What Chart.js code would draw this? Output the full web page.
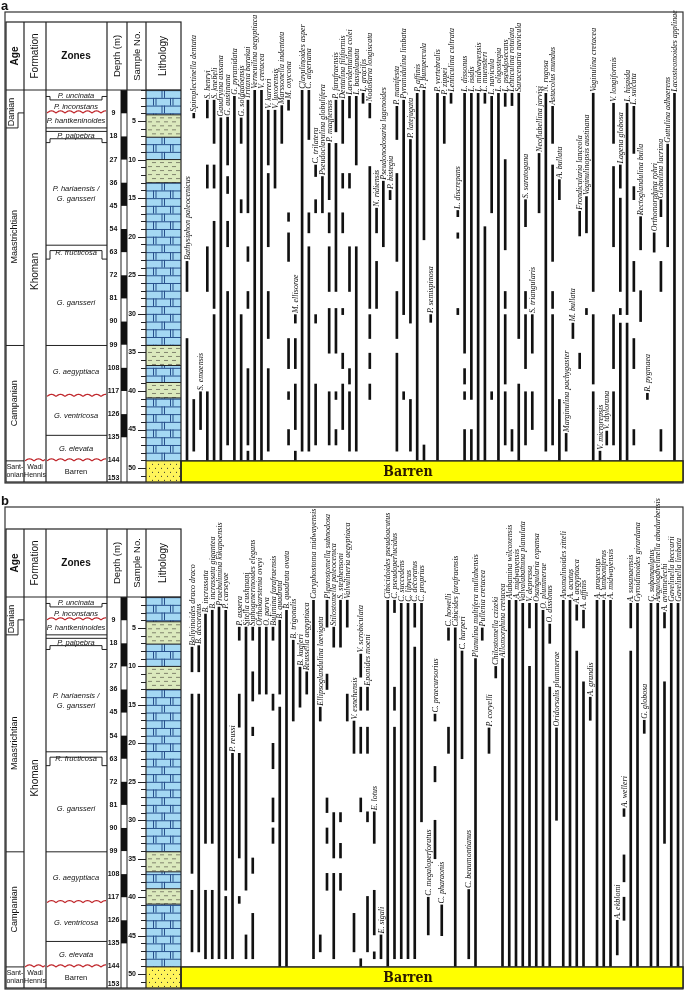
<!DOCTYPE html>
<html>
<head>
<meta charset="utf-8">
<script src="https://cdn.jsdelivr.net/npm/chart.js@4.4.1/dist/chart.umd.min.js"></script>
<style>
  body { margin: 0; background: #fff; width: 685px; height: 990px; position: relative; overflow: hidden; }
  .panel { position: absolute; left: 0; width: 685px; }
  #wrapA { top: 0; height: 486px; }
  #wrapB { top: 486px; height: 504px; }
</style>
</head>
<body>
<div class="panel" id="wrapA"><canvas id="chartA"></canvas></div>
<div class="panel" id="wrapB"><canvas id="chartB"></canvas></div>
<script>
// ---- stratigraphy (sample units, sample 1 at top) ----
const ageNames = ['Danian', 'Maastrichtian', 'Campanian', 'Sant-|onian']
const ageTops = [1, 5.9, 34.1, 49.06]
const zoneNames = ['P. uncinata', 'P. inconstans', 'P. hantkeninoides', 'P. palpebra',
  'P. hariaensis /|G. gansseri', 'R. fructicosa', 'G. gansseri', 'G. aegyptiaca',
  'G. ventricosa', 'G. elevata', 'Barren']
const zoneTops = [1, 2.27, 3.95, 5.9, 7.8, 21.1, 22.9, 34.1, 40.7, 45.75, 49.06]
const unconformities = [3.95, 40.7]
const depthTicks = [9, 18, 27, 36, 45, 54, 63, 72, 81, 90, 99, 108, 117, 126, 135, 144, 153]
const sampleLabels = [5, 10, 15, 20, 25, 30, 35, 40, 45, 50]
const lithTypes = ['lime', 'marl', 'lime', 'marl', 'lime', 'marl', 'lime', 'marl', 'lime', 'sand']
const lithTops = [1, 4.2, 7.1, 10.0, 13.0, 34.1, 36.7, 38.9, 40.9, 49.06]
const sampleMax = 51.8

// ---- panel a : agglutinated and calcareous benthics ----
const speciesA = ['Bathysiphon paleocenicus', 'Spiroplectinella dentata', 'S. emaensis', 'S. henryi', 'S. knebeli',
  'Gaudryina aissana', 'G. austinana', 'G. pyramidata', 'G. soldadoensis', 'Tritaxia barakai',
  'Verneuilina aegyptiaca', 'V. cretacea', 'V. karreri', 'V. luxorensis', 'Marssonella indentata',
  'M. oxycona', 'M. ellisorae', 'Clavulinoides asper', 'C. algeriana', 'C. trilatera',
  'Pseudoclavulina globulifera', 'P. maqfiensis', 'P. farafraensis', 'Dentalina filiformis', 'Laevidentalina colei',
  'L. basiplanata', 'L. gracilis', 'Nodosaria longiscata', 'N. ridiensis', 'Pseudonodosaria lagenoides',
  'P. bistegia', 'P. manifesta', 'Pyramidulina limbata', 'P. latejugata', 'P. affinis',
  'P. pumpercula', 'P. semispinosa', 'P. vertebralis', 'P. zippei', 'Lenticulina cultrata',
  'L. discrepans', 'L. dissonus', 'L. isidis', 'L. midwayensis', 'L. muensteri',
  'L. navicula', 'L. oligostegia', 'L. pseudosecans', 'Lenticulina rotulata', 'Saracenaria navicula',
  'S. saratogana', 'S. triangularis', 'Neoflabellina jarvisi', 'N. rugosa', 'Astacolus mundus',
  'A. bullata', 'Marginulina pachygaster', 'M. bullata', 'Frondicularia lanceola', 'Vaginulinopsis austinana',
  'Vaginulina cretacea', 'V. microrepsis', 'V. taylorana', 'V. longiformis', 'Lagena globosa',
  'L. hispida', 'L. sulcata', 'Rectoglandulina bulla', 'R. pygmaea', 'Orthomorphina rohri',
  'Globulina lacrima', 'Guttulina adhaerens', 'Lacosteomoides applinae']
const rangesA = [
  [[23.2, 27.1], [33.2, 49]], [[4, 4.6], [41.1, 47.8]], [[40.1, 45]],
  [[2.3, 4.6], [10.7, 13.7], [21.3, 27.1], [40.1, 49]], [[2.3, 7.9], [10.7, 13.7], [18, 29.3], [30.1, 49]],
  [[4.6, 49]], [[4.5, 10.7], [12.2, 14.4], [18, 21.3], [27.1, 47]], [[1.8, 49]],
  [[4.6, 7.9], [15.2, 16.9], [30.1, 49]], [[2.3, 16.9], [21.3, 23.2], [27.1, 29.3], [37.1, 47], [47.8, 49]],
  [[1, 49]], [[1, 49]], [[3.6, 10.7], [11.8, 21.3], [27.1, 33.2], [37.1, 47.8]], [[3.6, 13.7]], [[3, 7.9]],
  [[2.3, 3.6], [16.9, 18], [19.5, 23.2], [33.2, 37.1], [40.1, 41.1], [45, 47]],
  [[30.1, 31.2], [33.2, 37.1], [39.1, 45], [47.8, 49]], [[1, 47.8]], [[1, 7.4], [16.9, 19.5], [21.3, 47.8]],
  [[10.7, 12.2], [15.2, 16.9], [30.1, 31.2], [39.1, 47]], [[12.2, 16.9]],
  [[7.9, 15.2], [16.9, 19.5], [21.3, 27.1], [29.3, 35.1], [40.1, 47]],
  [[2.3, 6.4], [7.9, 27.1], [29.3, 35.1], [40.1, 41.1], [45, 47]],
  [[2.3, 7.9], [11.8, 13.7], [16.9, 19.5], [29.3, 30.1], [35.1, 37.1], [39.1, 45]],
  [[1.8, 4.6], [11.8, 13.7], [21.3, 27.1], [37.1, 39.1], [40.1, 47.8]], [[1.8, 10.7], [21.3, 47.8]], [[1.4, 2.7]],
  [[2.7, 4.6], [10.9, 29.3], [30.1, 33.2], [35.1, 37.1], [39.1, 41.1]], [[16.3, 19.5], [23.2, 29.3]], [[12.8, 21.3]],
  [[14, 15.2]], [[3.1, 7.4], [11.8, 23.2], [27.1, 33.2], [35.1, 47.8]], [[2.3, 30.1], [40.1, 41.1]],
  [[7.4, 31.2], [41.1, 47.8]], [[1.4, 49]], [[1, 20.4], [47, 49]], [[30.1, 31.1]], [[1.4, 49]], [[1.8, 7.9]],
  [[1.4, 2.7]], [[16.6, 17.4], [19.5, 20.2], [29.3, 30.1]], [[1.4, 35.1], [37.1, 39.1], [40.1, 41.1], [45, 49]],
  [[1.4, 41.1], [45, 49]], [[1.4, 49]], [[1.4, 2.7], [18.7, 49]], [[1.8, 16.9], [40.1, 41.1]], [[1.4, 49]],
  [[1.4, 3.1], [10, 21.7], [27.1, 29.3], [30.1, 39.1], [40.1, 47]], [[1.4, 3], [45, 47.8]],
  [[1.4, 33.2], [39.1, 49]], [[15.2, 18.7], [27.1, 29.3], [30.1, 37.1], [40.1, 47]], [[30.1, 35.1], [40.1, 45]],
  [[9.2, 16.9]], [[1.4, 47.8]], [[3.1, 7.9], [10.7, 23.2], [27.1, 29.3], [30.1, 47]], [[12.6, 15.2], [41.1, 49]],
  [[45.5, 47.8]], [[31.2, 33.2]], [[16.7, 19.9], [35.1, 37.1]], [[14.8, 19.5], [29.3, 30.1]],
  [[1.4, 27.1], [30.1, 39.1], [40.1, 49]], [[47.8, 49]], [[45.2, 47]],
  [[2.7, 7.9], [10.9, 21.3], [30.1, 37.1], [40.1, 47]], [[10.7, 13.7], [15, 27.1], [29.3, 30.1], [31.2, 49]],
  [[2.7, 30.1], [31.2, 49]], [[3.1, 9.2], [13.5, 15.2], [23.2, 27.1], [33.2, 37.1], [45, 47]],
  [[17.4, 21.7], [27, 31]], [[40.3, 41.1]], [[19.5, 22]], [[15.2, 17.4], [23.2, 27.1], [45, 47.8]],
  [[8, 21.3]], [[1.4, 49]]
]

// ---- panel b : calcareous benthics ----
const speciesB = ['Bolivinoides draco draco', 'B. decoratus', 'B. incrassata', 'B. incrassata gigantea',
  'Praebulimina kikapoensis', 'P. carseyae', 'P. reussi', 'P. aspera', 'Sitella cushmani',
  'Siphogenerinoides elegans', 'Orthokarstenia oveyi', 'O. parva', 'Bulimina farafraensis', 'B. quadrata',
  'B. quadrata ovata', 'B. trigonalis', 'B. kugleri', 'Reussella aegyptiaca', 'Coryphostoma midwayensis',
  'Ellipsoglandulina laevigata', 'Pleurostomella subnodosa', 'Stilostomella paleocenica', 'S. stephensoni',
  'Valvulineria aegyptiaca', 'V. esnehensis', 'V. scrobiculata', 'Eponides moeni', 'E. lotus', 'E. sigali',
  'Cibicidoides pseudoacutus', 'C. pseudoperlucidus', 'C. succedens', 'C. libycus', 'C. decoratus',
  'C. proprius', 'C. megaloperforatus', 'C. praecursorius', 'C. pharaonis', 'C. howelli',
  'Cibicides farafraensis', 'C. harperi', 'C. beaumontianus', 'Planulina multifera mullahensis',
  'Pullenia cretacea', 'P. coryelli', 'Chilostomella czizeki', 'Allomorphina cretacea',
  'Alabamina wilcoxensis', 'A. midwayensis', 'Valvalabamina planulata', 'V. depressa', 'Osangularia expansa',
  'O. plummerae', 'O. dissonus', 'Oridorsalis plummerae', 'Anomalinoides zitteli', 'A. acutus',
  'A. aegyptiaca', 'A. affinis', 'A. grandis', 'A. praecutus', 'A. umboniferus', 'A. midwayensis',
  'A. ekblomi', 'A. welleri', 'A. susanaensis', 'Gyroidinoides girardana', 'G. globosa', 'G. subangulatus',
  'Angulogavelinella abudurbensis', 'A. avnimelechi', 'Gavelinella beccarii', 'Gavelinella limbata']
const rangesB = [
  [[7.5, 10.7], [13.6, 36.9], [39.1, 47.1]], [[7.3, 10.7], [13.6, 47.1]], [[3.2, 33], [39.1, 48]],
  [[2.7, 33], [39.1, 48]], [[2.3, 48]], [[2.7, 39.1], [39.9, 48]], [[21.3, 48]],
  [[4.9, 6.6], [13.6, 17.9], [21.3, 34.9], [39.9, 40.8]], [[4.9, 39.1], [44.9, 48]],
  [[4.9, 6.6], [10.7, 14.5], [17.9, 19], [34.9, 36.9], [42.1, 48]], [[4.9, 13.6]], [[4.9, 13.6]],
  [[4.9, 6.6], [13.6, 15.7], [20, 23.3], [27.1, 30.2], [31, 33]], [[4, 13.6], [15.3, 49]], [[2.7, 49]],
  [[6.6, 17.1]], [[10.1, 15.3]], [[10.7, 13.6]], [[1.4, 48]], [[15.3, 17.1], [44.9, 47.1]],
  [[1.4, 4.9], [11, 13], [27.1, 29], [31, 33], [36.9, 39.1]], [[4.9, 7.5], [29, 34.9], [36.9, 48]],
  [[1.4, 7.5], [29, 30.2], [33, 34.9], [36.9, 39.1]], [[1.4, 4.9], [13.6, 17.1]], [[17.1, 21.3], [42.1, 47.1]],
  [[8.4, 11.4], [12.7, 15.7], [17.9, 21.3], [27.1, 28.9], [48, 49]],
  [[12.7, 15.7], [17.9, 21.3], [28.9, 30.2], [39.9, 47.1]], [[28.9, 33], [39.1, 44.9], [47.1, 48]], [[44.9, 48]],
  [[1.4, 49]], [[1.4, 3], [12.7, 15.7], [17.9, 48]], [[1.8, 48]], [[1.8, 48]], [[1.8, 4.9], [7.5, 48]],
  [[1.8, 30.2]], [[40, 44.9]], [[16.2, 17.1], [23, 25], [30, 35]], [[41, 45]], [[5, 6.6], [17.9, 21.3]],
  [[5, 49]], [[8, 22]], [[39, 48]], [[9, 49]], [[5, 6.6]], [[18, 21.3]], [[10, 11.5]], [[9, 49]],
  [[1.4, 49]], [[1.4, 49]], [[1.8, 49]], [[1.8, 5], [10, 49]], [[1.8, 49]], [[2.7, 49]], [[4.5, 7], [12.7, 49]],
  [[18, 30]], [[1.4, 49]], [[1.4, 49]], [[2, 4], [8, 49]], [[2.7, 5], [12, 49]], [[14, 17]], [[1.4, 49]],
  [[1.4, 49]], [[1.4, 49]], [[43, 47.5]], [[28.5, 29.5], [34.5, 38], [40, 43]], [[1.8, 5], [8, 49]],
  [[1.8, 49]], [[17, 18.7]], [[1.8, 49]], [[1.8, 49]], [[3, 5], [12, 33]], [[1.8, 49]], [[1.8, 49]]
]

// column edges of the stratigraphic table (px)
const COL = { age: 6, form: 24, zone: 46, depth: 107, dbar: 121, samp: 127, lith: 146, end: 181 }
const SANS = '"Liberation Sans", Arial, sans-serif'
const NARROW = '"Liberation Sans Narrow", "Liberation Sans", Arial, sans-serif'

function wavy(ctx, x0, x1, y) {
  ctx.save()
  ctx.strokeStyle = '#c0282d'
  ctx.lineWidth = 1.2
  ctx.beginPath()
  for (let x = x0; x <= x1; x += 0.5) {
    const yy = y - 2 * Math.abs(Math.sin((x - x0) * Math.PI / 9))
    if (x === x0) ctx.moveTo(x, yy); else ctx.lineTo(x, yy)
  }
  ctx.stroke()
  ctx.restore()
}

function vText(ctx, txt, x, y, font) {
  ctx.save()
  ctx.translate(x, y)
  ctx.rotate(-Math.PI / 2)
  ctx.font = font
  ctx.textAlign = 'center'
  ctx.textBaseline = 'middle'
  ctx.fillText(txt, 0, 0)
  ctx.restore()
}

function line(ctx, x0, y0, x1, y1) {
  ctx.beginPath()
  ctx.moveTo(x0, y0)
  ctx.lineTo(x1, y1)
  ctx.stroke()
}

function drawLithology(ctx, Y) {
  const x0 = COL.lith, x1 = COL.end
  lithTypes.forEach((type, i) => {
    const s0 = lithTops[i], s1 = i + 1 < lithTops.length ? lithTops[i + 1] : sampleMax
    const y0 = Y(s0), y1 = Y(s1)
    ctx.save()
    ctx.beginPath()
    ctx.rect(x0, y0, x1 - x0, y1 - y0)
    ctx.clip()
    if (type === 'lime') {
      ctx.fillStyle = '#a4d8f3'
      ctx.fillRect(x0, y0, x1 - x0, y1 - y0)
      ctx.strokeStyle = '#27508c'
      ctx.lineWidth = 1
      let row = 0
      for (let s = Math.floor(s0); s < s1 + 1; s++, row++) {
        const ya = Y(s), yb = Y(s + 1)
        line(ctx, x0, ya + 0.5, x1, ya + 0.5)
        const joints = row % 2 ? [x0 + 9, x0 + 26] : [x0 + 17.5]
        joints.forEach(j => { line(ctx, j - 1.5, ya, j - 1.5, yb); line(ctx, j + 1, ya, j + 1, yb) })
      }
    } else if (type === 'marl') {
      ctx.fillStyle = '#dbe9bd'
      ctx.fillRect(x0, y0, x1 - x0, y1 - y0)
      ctx.strokeStyle = '#6b6b5a'
      ctx.lineWidth = 0.8
      let row = 0
      for (let y = y0 + 3; y < y1; y += 4, row++) {
        for (let x = x0 + (row % 2 ? 2 : 6); x < x1 - 2; x += 8) line(ctx, x, y, x + 4, y)
      }
    } else {
      ctx.fillStyle = '#fff45a'
      ctx.fillRect(x0, y0, x1 - x0, y1 - y0)
      ctx.fillStyle = '#333'
      let row = 0
      for (let y = y0 + 3; y < y1; y += 4, row++) {
        for (let x = x0 + (row % 2 ? 3 : 6); x < x1 - 1; x += 6) ctx.fillRect(x, y, 1, 1)
      }
    }
    ctx.restore()
    ctx.strokeStyle = '#222'
    ctx.lineWidth = 1
    line(ctx, x0, y0, x1, y0)
  })
}

const stratPlugin = {
  id: 'strat',
  afterDraw(chart, args, opts) {
    const ctx = chart.ctx
    const area = chart.chartArea
    const Y = v => chart.scales.y.getPixelForValue(v)
    const top = area.top, bot = area.bottom
    const hTop = top - 68

    ctx.save()
    ctx.fillStyle = '#111'
    ctx.font = 'bold 13px ' + SANS
    ctx.textBaseline = 'alphabetic'
    ctx.fillText(opts.tag, 1, opts.frameTop - 2)

    // outer frame
    ctx.strokeStyle = '#333'
    ctx.lineWidth = 1.2
    ctx.strokeRect(5, opts.frameTop, 678, bot + 1 - opts.frameTop)

    drawLithology(ctx, Y)

    // barren box across the range area
    const yb = Y(zoneTops[zoneTops.length - 1])
    ctx.fillStyle = '#ffff00'
    ctx.fillRect(COL.end, yb, 683 - COL.end, bot - yb)
    ctx.strokeStyle = '#222'
    ctx.lineWidth = 1.5
    ctx.strokeRect(COL.end, yb, 683 - COL.end, bot - yb)
    ctx.fillStyle = '#2a1a00'
    ctx.font = 'bold 14px "DejaVu Serif Condensed", "Liberation Serif", serif'
    ctx.textAlign = 'center'
    ctx.textBaseline = 'middle'
    ctx.fillText('Barren', 408, (yb + bot) / 2 + 1)

    // table grid
    ctx.strokeStyle = '#222'
    ctx.lineWidth = 1.2
    ctx.strokeRect(COL.age, hTop, COL.end - COL.age, bot - hTop)
    line(ctx, COL.age, top, COL.end, top)
    ;[COL.form, COL.zone, COL.depth, COL.lith].forEach(x => line(ctx, x, hTop, x, bot))
    line(ctx, COL.samp, hTop, COL.samp, top)
    ctx.lineWidth = 1
    line(ctx, COL.dbar, top, COL.dbar, bot)
    line(ctx, COL.samp, top, COL.samp, bot)

    // header texts
    ctx.fillStyle = '#111'
    const hMid = hTop + 34
    vText(ctx, 'Age', 15, hMid, 'bold 10px ' + SANS)
    vText(ctx, 'Formation', 35, hMid, '10px ' + SANS)
    ctx.font = 'bold 10px ' + SANS
    ctx.textAlign = 'center'
    ctx.textBaseline = 'middle'
    ctx.fillText('Zones', 76, hMid)
    vText(ctx, 'Depth (m)', 117, hMid, '9.5px ' + SANS)
    vText(ctx, 'Sample No.', 137, hMid, '9.5px ' + SANS)
    vText(ctx, 'Lithology', 163, hMid, '10px ' + SANS)

    // ages
    ctx.lineWidth = 1
    const yDan = Y(ageTops[1]), yDanR = Y(unconformities[0])
    line(ctx, COL.age, yDan, 18, yDan)
    line(ctx, 18, yDan, 18, yDanR)
    line(ctx, 18, yDanR, COL.form, yDanR)
    line(ctx, COL.age, Y(ageTops[2]), COL.form, Y(ageTops[2]))
    line(ctx, COL.age, Y(ageTops[3]), COL.form, Y(ageTops[3]))
    ageNames.forEach((name, i) => {
      const s0 = ageTops[i], s1 = i + 1 < ageTops.length ? ageTops[i + 1] : sampleMax
      if (name.includes('|')) {
        const [a, b] = name.split('|')
        ctx.font = '7px ' + NARROW
        ctx.textAlign = 'center'
        ctx.fillText(a, 15, Y(s0) + 6)
        ctx.fillText(b, 15, Y(s0) + 14)
      } else {
        vText(ctx, name, i === 0 ? 12 : 15, (Y(s0) + Y(s1)) / 2 + (i === 0 ? 3 : 0), '9px ' + SANS)
      }
    })

    // formations
    vText(ctx, 'Khoman', 35, Y(24.5), '10px ' + SANS)
    ctx.font = '7px ' + NARROW
    ctx.textAlign = 'center'
    ctx.fillText('Wadi', 35, yb + 6)
    ctx.fillText('Hennis', 35, yb + 14)

    // zones
    const zx0 = COL.zone, zx1 = COL.depth
    zoneNames.forEach((name, i) => {
      const s0 = zoneTops[i], s1 = i + 1 < zoneTops.length ? zoneTops[i + 1] : sampleMax
      const yc = (Y(s0) + Y(s1)) / 2
      ctx.font = (name === 'Barren' ? '' : 'italic ') + '7.5px ' + NARROW
      ctx.textAlign = 'center'
      ctx.textBaseline = 'middle'
      if (name.includes('|')) {
        const [a, b] = name.split('|')
        ctx.fillText(a, 76, yc - 5)
        ctx.fillText(b, 76, yc + 5)
      } else {
        ctx.fillText(name, 76, yc + 0.5)
      }
    })
    // plain boundaries
    ;[zoneTops[3], zoneTops[7], zoneTops[9]].forEach(s => line(ctx, zx0, Y(s), zx1, Y(s)))
    // stepped (bracket) boundaries
    const bracket = (sEdge, sMid) => {
      const ye = Y(sEdge), ym = Y(sMid)
      line(ctx, zx0, ye, zx0 + 4, ye)
      line(ctx, zx0 + 4, ye, zx0 + 4, ym)
      line(ctx, zx0 + 4, ym, zx1 - 5, ym)
      line(ctx, zx1 - 5, ym, zx1 - 5, ye)
      line(ctx, zx1 - 5, ye, zx1, ye)
    }
    bracket(zoneTops[1] - 0.45, zoneTops[1])
    line(ctx, zx0, Y(zoneTops[3] + 0.45), zx1, Y(zoneTops[3] + 0.45))
    bracket(zoneTops[4], zoneTops[4] - 0.5)
    line(ctx, zx0, Y(zoneTops[5]), zx1, Y(zoneTops[5]))
    bracket(zoneTops[6], zoneTops[6] - 1.1)
    unconformities.forEach(s => wavy(ctx, zx0 + 1, zx1 - 1, Y(s)))
    wavy(ctx, COL.form + 1, COL.form + 21, yb)
    wavy(ctx, zx0 + 1, zx1 - 1, yb)

    // depth scale
    ctx.fillStyle = '#111'
    depthTicks.forEach((d, i) => {
      const s = 1 + d / 3
      const ya = Y(1 + (d - 9) / 3)
      if (i % 2 === 0 && d <= 144) ctx.fillRect(COL.dbar, ya, COL.samp - COL.dbar, Y(s) - ya)
      ctx.font = 'bold 7px ' + NARROW
      ctx.textAlign = 'center'
      ctx.textBaseline = 'middle'
      ctx.fillText(String(d), 113.5, Math.min(Y(s), bot - 4))
    })

    // sample numbers
    ctx.strokeStyle = '#222'
    ctx.lineWidth = 1
    for (let s = 1; s <= 51; s++) {
      const y = Math.round(Y(s)) + 0.5
      const long = sampleLabels.includes(s)
      line(ctx, long ? 138 : 141, y, COL.lith, y)
    }
    sampleLabels.forEach(s => {
      ctx.font = 'bold 7px ' + NARROW
      ctx.textAlign = 'right'
      ctx.textBaseline = 'middle'
      ctx.fillText(String(s), 136, Y(s))
    })
    ctx.restore()
  }
}

const labelPlugin = {
  id: 'rangeLabels',
  afterDatasetsDraw(chart, args, opts) {
    const { ctx, scales: { x, y } } = chart
    ctx.save()
    ctx.fillStyle = '#111'
    ctx.font = 'italic 8px "Liberation Serif", "Times New Roman", serif'
    ctx.textAlign = 'left'
    ctx.textBaseline = 'middle'
    opts.names.forEach((name, i) => {
      const segs = opts.ranges[i]
      if (!segs || !segs.length) return
      const first = Math.min(...segs.map(s => s[0]))
      ctx.save()
      ctx.translate(x.getPixelForValue(i) + 0.4, y.getPixelForValue(first) - 1.5)
      ctx.rotate(-Math.PI / 2)
      ctx.fillText(name, 0, 0)
      ctx.restore()
    })
    ctx.restore()
  }
}

function rangePoints(ranges) {
  const pts = []
  ranges.forEach((segs, i) => segs.forEach(s => pts.push({ x: i, y: s })))
  return pts
}

function makeChart(id, names, ranges, pad, xMin, xMax, frameTop, tag) {
  return new Chart(document.getElementById(id), {
    type: 'bar',
    data: {
      datasets: [{
        data: rangePoints(ranges),
        backgroundColor: '#111',
        borderWidth: 0,
        barThickness: 2,
        grouped: false
      }]
    },
    options: {
      responsive: true,
      maintainAspectRatio: false,
      animation: false,
      layout: { padding: pad, autoPadding: false },
      scales: {
        x: { type: 'linear', display: false, offset: false, grid: { offset: false }, min: xMin, max: xMax },
        y: { display: false, reverse: true, min: 0.98, max: sampleMax }
      },
      plugins: {
        legend: { display: false },
        tooltip: { enabled: false },
        strat: { frameTop, tag },
        rangeLabels: { names, ranges }
      }
    },
    plugins: [stratPlugin, labelPlugin]
  })
}

makeChart('chartA', speciesA, rangesA, { left: 182, right: 2, top: 90, bottom: 4 }, -0.739, 73.26, 12, 'a')
makeChart('chartB', speciesB, rangesB, { left: 182, right: 2, top: 111, bottom: 2 }, -1.481, 72.74, 21, 'b')
</script>
</body>
</html>
